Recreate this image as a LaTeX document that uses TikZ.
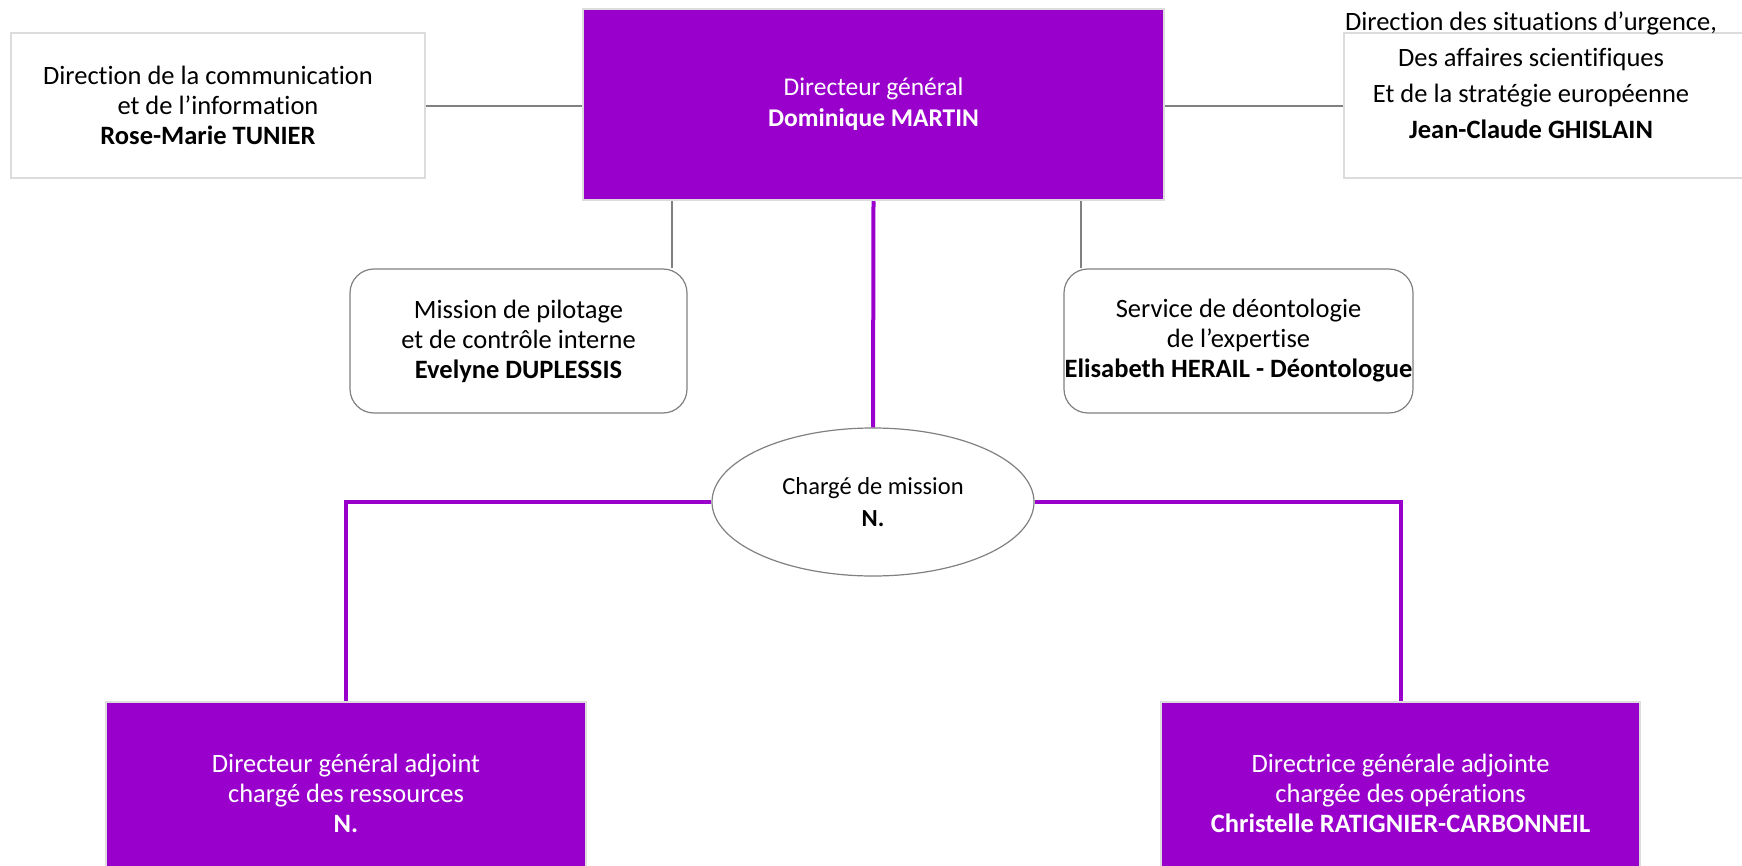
\documentclass[tikz,border=0pt]{standalone}
\usepackage{fontspec}
\setmainfont{Carlito}[Ligatures=NoCommon]
\usetikzlibrary{shapes.geometric}
\definecolor{vio}{HTML}{9900CC}
\definecolor{lgray}{HTML}{DCDCDC}
\definecolor{mgray}{HTML}{808080}
\newcommand{\padr}{\hspace*{20pt}}
\begin{document}
\begin{tikzpicture}[x=1pt,y=-1pt,
  txt/.style={align=center, font=\fontsize{26.5}{30}\selectfont, inner sep=0pt},
  whitebox/.style={txt, draw=lgray, line width=2.5pt, fill=white},
  purplebox/.style={txt, draw=lgray, line width=2.5pt, fill=vio, text=white},
  roundbox/.style={txt, draw=mgray, line width=1.2pt, fill=white, rounded corners=24pt},
  ovalbox/.style={ellipse, draw=mgray, line width=1.2pt, fill=white, align=center, inner sep=0pt, font=\fontsize{24.5}{32}\selectfont},
  thinlink/.style={draw=mgray, line width=1.5pt},
  thicklink/.style={draw=vio, line width=4pt}]
\useasboundingbox (0,0) rectangle (1742,866);

% nodes
\node[whitebox, minimum width=414pt, minimum height=145pt] (lbox) at (218,105.5)
  {Direction de la communication\padr\\ et de l’information\padr\\ \textbf{Rose-Marie TUNIER}\padr};
\node[purplebox, font=\fontsize{25.5}{31}\selectfont, minimum width=581pt, minimum height=191pt] (dg) at (873.5,104.5)
  {Directeur général\\ \textbf{Dominique MARTIN}};
\node[whitebox, minimum width=408pt, minimum height=145pt] (rbox) at (1548,105.5) {};
\node[txt, font=\fontsize{26.5}{36}\selectfont] (rtext) at (1531,75)
  {Direction des situations d’urgence,\\ Des affaires scientifiques\\ Et de la stratégie européenne\\ \textbf{Jean-Claude GHISLAIN}};
\node[roundbox, minimum width=337pt, minimum height=144pt] (mission) at (518.5,341)
  {Mission de pilotage\\ et de contrôle interne\\ \textbf{Evelyne DUPLESSIS}};
\node[roundbox, minimum width=349pt, minimum height=144pt] (service) at (1238.5,341)
  {Service de déontologie\\ de l’expertise\\ \textbf{Elisabeth HERAIL - Déontologue}};
\node[ovalbox, minimum width=322pt, minimum height=148pt] (ell) at (873,502)
  {Chargé de mission\\ \textbf{N.}};
\node[purplebox, minimum width=480pt, minimum height=182pt] (bl) at (346,793)
  {Directeur général adjoint\\ chargé des ressources\\ \textbf{N.}};
\node[purplebox, minimum width=479pt, minimum height=182pt] (br) at (1400.5,793)
  {Directrice générale adjointe\\ chargée des opérations\\ \textbf{Christelle RATIGNIER-CARBONNEIL}};

% helper coordinates
\coordinate (mx) at (672,0);
\coordinate (sx) at (1081,0);
\coordinate (hy) at (0,106);

% connectors
\draw[thinlink] (lbox.east |- hy) -- (dg.west |- hy);
\draw[thinlink] (dg.east |- hy) -- (rbox.west |- hy);
\draw[thinlink] (dg.south -| mx) -- (mission.north -| mx);
\draw[thinlink] (dg.south -| sx) -- (service.north -| sx);
\draw[thicklink] (dg.south) -- (ell.north);
\draw[thicklink] (ell.west) -| (bl.north);
\draw[thicklink] (ell.east) -| (br.north);
\end{tikzpicture}
\end{document}
